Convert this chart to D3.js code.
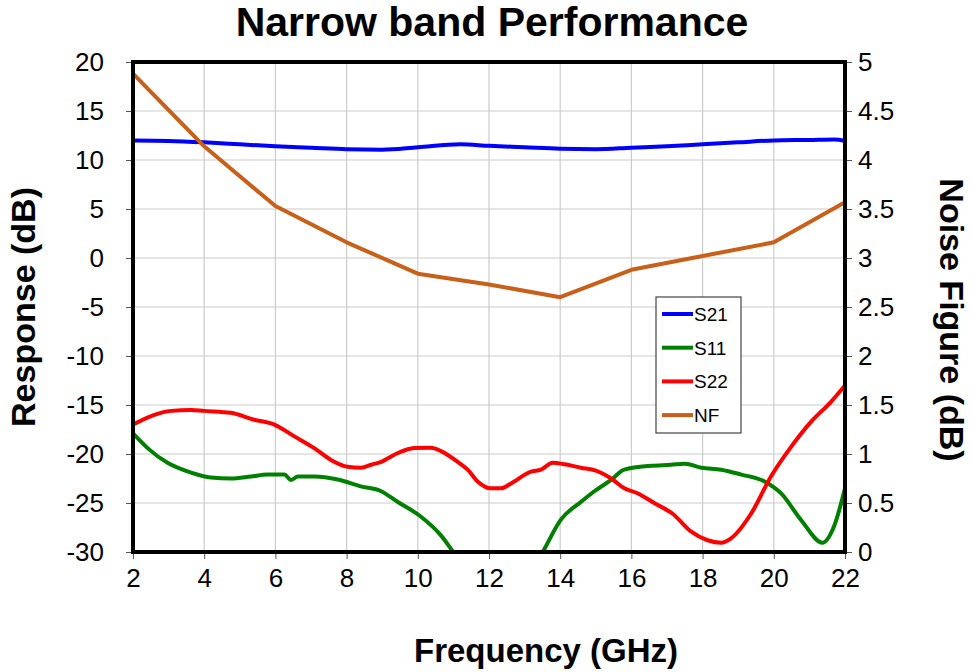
<!DOCTYPE html>
<html>
<head>
<meta charset="utf-8">
<script src="https://cdn.jsdelivr.net/npm/d3@7"></script>
<style>
  body { margin: 0; background: #fff; }
  svg text { font-family: Arial, "Liberation Sans", sans-serif; }
</style>
</head>
<body>
<div id="chart"></div>
<script>
// frequency (GHz) / response (dB) pairs
const s21 = [[2, 12.0], [3, 11.95], [4, 11.8], [5, 11.6], [6, 11.4], [7, 11.25], [8, 11.1], [9, 11.05], [10, 11.3],
  [11.2, 11.6], [12, 11.45], [13, 11.3], [14, 11.15], [15, 11.1], [16, 11.25], [17, 11.4], [18, 11.6], [19, 11.8],
  [20, 12.0], [21, 12.05], [21.7, 12.1], [22, 11.95]];
const s11 = [[2, -17.9], [2.41, -19.4], [2.97, -20.9], [3.63, -21.9], [4.19, -22.4], [4.75, -22.5], [5.31, -22.3],
  [5.78, -22.1], [6.25, -22.1], [6.44, -22.65], [6.63, -22.3], [7.09, -22.3], [7.75, -22.6], [8.4, -23.3],
  [8.97, -23.8], [9.44, -24.9], [10.09, -26.4], [10.65, -28.3], [11.02, -30.1], [11.6, -32.5], [12.4, -34],
  [13.1, -32.5], [13.51, -30], [14.02, -26.7], [14.58, -24.9], [14.96, -23.8], [15.43, -22.65], [15.8, -21.6],
  [16.55, -21.2], [17.11, -21.1], [17.5, -21.0], [17.97, -21.4], [18.52, -21.6], [19.09, -22.1], [19.74, -22.8],
  [20.2, -24.0], [20.76, -26.7], [21.37, -29.05], [21.69, -27.4], [22, -23.5]];
const s22 = [[2, -17.0], [2.6, -16.0], [3.07, -15.6], [3.63, -15.5], [4.0, -15.6], [4.75, -15.8], [5.4, -16.5],
  [5.97, -17.0], [6.53, -18.2], [7.09, -19.4], [7.56, -20.6], [8.03, -21.3], [8.4, -21.4], [8.69, -21.1],
  [8.97, -20.8], [9.44, -19.9], [9.9, -19.4], [10.37, -19.35], [10.65, -19.7], [11.12, -20.8], [11.4, -21.6],
  [11.68, -22.8], [12.06, -23.5], [12.34, -23.5], [12.62, -23.0], [13.18, -21.8], [13.46, -21.6], [13.79, -20.9],
  [14.12, -21.05], [14.58, -21.4], [15.0, -21.7], [15.43, -22.5], [15.8, -23.5], [16.17, -24.0], [16.64, -25.0],
  [17.16, -26.1], [17.67, -27.9], [18.14, -28.8], [18.52, -29.05], [18.8, -28.6], [19.36, -26.1], [19.92, -22.3],
  [20.48, -19.3], [21.05, -16.7], [21.6, -14.7], [22, -13.0]];
// noise figure (dB), right axis
const nf = [[2, 4.88], [4, 4.14], [6, 3.53], [8, 3.16], [10, 2.84], [12, 2.73], [14, 2.6], [16, 2.88], [18, 3.02],
  [20, 3.16], [22, 3.57]];

const seriesNames = ["S21", "S11", "S22", "NF"];
const seriesColors = ["#0000ff", "#008000", "#ff0000", "#c8601a"];
const xTicks = d3.range(2, 23, 2);
const yTicks = d3.range(-30, 21, 5);
const y2Ticks = d3.range(0, 5.01, 0.5);

const width = 971, height = 672;
const margin = { top: 62, left: 133, bottom: 120, right: 126 };
const innerW = width - margin.left - margin.right;
const innerH = height - margin.top - margin.bottom;

const svg = d3.select("#chart").append("svg")
  .attr("width", width)
  .attr("height", height);

const x = d3.scaleLinear().domain([2, 22]).range([0, innerW]);
const y = d3.scaleLinear().domain([-30, 20]).range([innerH, 0]);
const y2 = d3.scaleLinear().domain([0, 5]).range([innerH, 0]);

svg.append("defs").append("clipPath").attr("id", "plot-clip")
  .append("rect").attr("width", innerW).attr("height", innerH);

const group = svg.append("g")
  .attr("transform", "translate(" + margin.left + "," + margin.top + ")");

// gridlines
group.append("g").selectAll("line").data(xTicks).join("line")
  .attr("x1", d => x(d)).attr("x2", d => x(d))
  .attr("y1", 0).attr("y2", innerH)
  .attr("stroke", "#cccccc").attr("stroke-width", 1.2);
group.append("g").selectAll("line").data(yTicks).join("line")
  .attr("x1", 0).attr("x2", innerW)
  .attr("y1", d => y(d)).attr("y2", d => y(d))
  .attr("stroke", "#cccccc").attr("stroke-width", 1.2);

// axes (plain hyphen for negatives, like the original)
const plain = d => String(d);
const styleAxis = g => {
  g.select(".domain").remove();
  g.selectAll(".tick line").attr("stroke", "#555");
  g.selectAll(".tick text").attr("font-size", 26).attr("fill", "#000")
    .attr("font-family", "Arial, 'Liberation Sans', sans-serif");
};
group.append("g")
  .attr("transform", "translate(0," + innerH + ")")
  .call(d3.axisBottom(x).tickValues(xTicks).tickFormat(plain).tickSize(7).tickPadding(10))
  .call(styleAxis);
group.append("g")
  .call(d3.axisLeft(y).tickValues(yTicks).tickFormat(plain).tickSize(7).tickPadding(22))
  .call(styleAxis);
group.append("g")
  .attr("transform", "translate(" + innerW + ",0)")
  .call(d3.axisRight(y2).tickValues(y2Ticks).tickFormat(plain).tickSize(7).tickPadding(6))
  .call(styleAxis);

// series
const line = d3.line().x(d => x(d[0])).y(d => y(d[1])).curve(d3.curveMonotoneX);
const line2 = d3.line().x(d => x(d[0])).y(d => y2(d[1]));
const plot = group.append("g").attr("clip-path", "url(#plot-clip)");
[s21, s11, s22].forEach((data, i) => {
  plot.append("path")
    .attr("d", line(data))
    .attr("fill", "none")
    .attr("stroke", seriesColors[i])
    .attr("stroke-width", 4)
    .attr("stroke-linejoin", "round");
});
plot.append("path")
  .attr("d", line2(nf))
  .attr("fill", "none")
  .attr("stroke", seriesColors[3])
  .attr("stroke-width", 4)
  .attr("stroke-linejoin", "round");

// frame
group.append("rect")
  .attr("width", innerW).attr("height", innerH)
  .attr("fill", "none").attr("stroke", "#000").attr("stroke-width", 4);

// legend
const legend = group.append("g").attr("transform", "translate(" + (656 - margin.left) + "," + (297 - margin.top) + ")");
legend.append("rect")
  .attr("width", 85).attr("height", 136)
  .attr("fill", "#fff").attr("stroke", "#444").attr("stroke-width", 1.2);
const rows = legend.selectAll(".row").data(seriesNames).join("g")
  .attr("transform", (d, i) => "translate(0," + (17 + i * 33.7) + ")");
rows.append("line")
  .attr("x1", 6).attr("x2", 37)
  .attr("stroke", (d, i) => seriesColors[i]).attr("stroke-width", 4);
rows.append("text")
  .attr("x", 38).attr("y", 7)
  .attr("font-size", 19)
  .text(d => d);

// titles
svg.append("text")
  .attr("x", 492).attr("y", 36)
  .attr("text-anchor", "middle")
  .attr("font-size", 41).attr("font-weight", "bold")
  .text("Narrow band Performance");
svg.append("text")
  .attr("x", 546).attr("y", 662)
  .attr("text-anchor", "middle")
  .attr("font-size", 33).attr("font-weight", "bold")
  .text("Frequency (GHz)");
svg.append("text")
  .attr("transform", "translate(35,307) rotate(-90)")
  .attr("text-anchor", "middle")
  .attr("font-size", 34).attr("font-weight", "bold")
  .text("Response (dB)");
svg.append("text")
  .attr("transform", "translate(940,320) rotate(90)")
  .attr("text-anchor", "middle")
  .attr("font-size", 34).attr("font-weight", "bold")
  .text("Noise Figure (dB)");
</script>
</body>
</html>
